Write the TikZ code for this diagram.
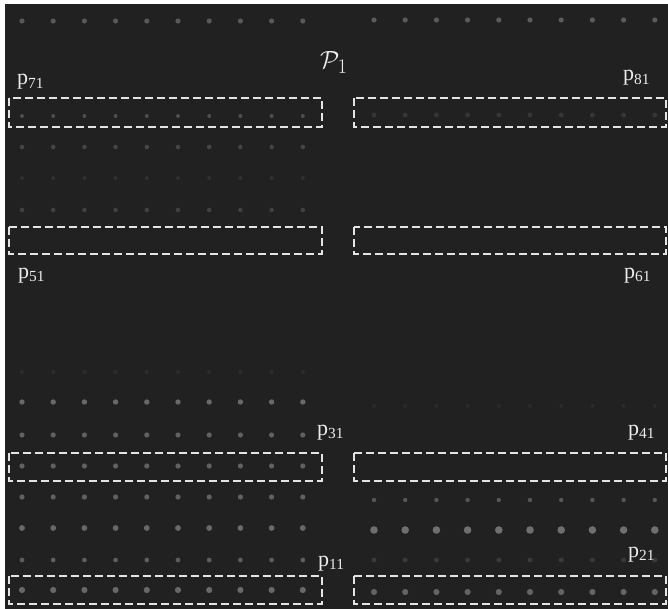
\documentclass[tikz,border=0pt]{standalone}
\usepackage{amsmath}
\usepackage{amssymb}
\usepackage{xcolor}
\usepackage{fontspec}
\setmainfont{Liberation Serif}
\usepackage{tikz}
\usetikzlibrary{calc,positioning}

\definecolor{bggray}{HTML}{212121}
\definecolor{roigray}{HTML}{E4E4E4}
\definecolor{labelgray}{HTML}{ECECEC}

% one row of ten spots: x0, y, radius, grey level (percent of white)
\newcommand{\spotrow}[4]{%
	\foreach \i in {0,...,9}
		\fill[white!#4!bggray] ($(#1,#2)+(31.2*\i,0)$) circle (#3);
}

\begin{document}
\begin{tikzpicture}[x=1pt, y=-1pt,
	lbl/.style = {anchor=base west, inner sep=0pt, text=labelgray,
	font=\fontsize{22}{26}\selectfont},
	roi/.style = {draw=roigray, line width=2pt, dash pattern=on 8pt off 4pt}
]
\useasboundingbox (0,0) rectangle (668,609);
\fill[white] (0,0) rectangle (668,609);
\fill[bggray] (5,4) rectangle (668,609);

\spotrow{22}{21}{2.6}{25}
\spotrow{22}{116}{2}{20}
\spotrow{22}{147}{2.3}{16}
\spotrow{22}{178}{2}{7}
\spotrow{22}{210}{2.3}{14}
\spotrow{22}{372}{2}{5}
\spotrow{22}{402}{2.7}{32}
\spotrow{22}{435}{2.6}{29}
\spotrow{22}{466}{2.6}{29}
\spotrow{22}{497}{2.6}{29}
\spotrow{22}{528}{2.9}{32}
\spotrow{22}{560}{2.4}{27}
\spotrow{22}{590}{3.1}{32}

\spotrow{374}{20}{2.6}{26}
\spotrow{374}{115}{2.5}{9}
\spotrow{374}{406}{2}{4}
\spotrow{374}{500}{2.2}{24}
\spotrow{374}{530}{3.8}{35}
\spotrow{374}{560}{2.5}{11}
\spotrow{374}{592}{3.1}{30}

\draw[roi] (9,98) rectangle (322,127);
\draw[roi] (354,98) rectangle (666,127);
\draw[roi] (9,227) rectangle (322,254);
\draw[roi] (354,227) rectangle (666,254);
\draw[roi] (9,453) rectangle (322,481);
\draw[roi] (354,453) rectangle (666,481);
\draw[roi] (9,576) rectangle (322,604);
\draw[roi] (354,576) rectangle (666,604);

\node[lbl, font=\fontsize{28}{32}\selectfont] (P1) at (320,69) {$\mathcal{P}_1$};
\node[lbl] (p71) at (17,85) {p\textsubscript{71}};
\node[lbl] (p81) at (623,81) {p\textsubscript{81}};
\node[lbl] (p51) at (18,278) {p\textsubscript{51}};
\node[lbl] (p61) at (624,278) {p\textsubscript{61}};
\node[lbl] (p31) at (317,435) {p\textsubscript{31}};
\node[lbl] (p41) at (628,435) {p\textsubscript{41}};
\node[lbl] (p11) at (318,566) {p\textsubscript{11}};
\node[lbl] (p21) at (628,557) {p\textsubscript{21}};
\end{tikzpicture}
\end{document}
